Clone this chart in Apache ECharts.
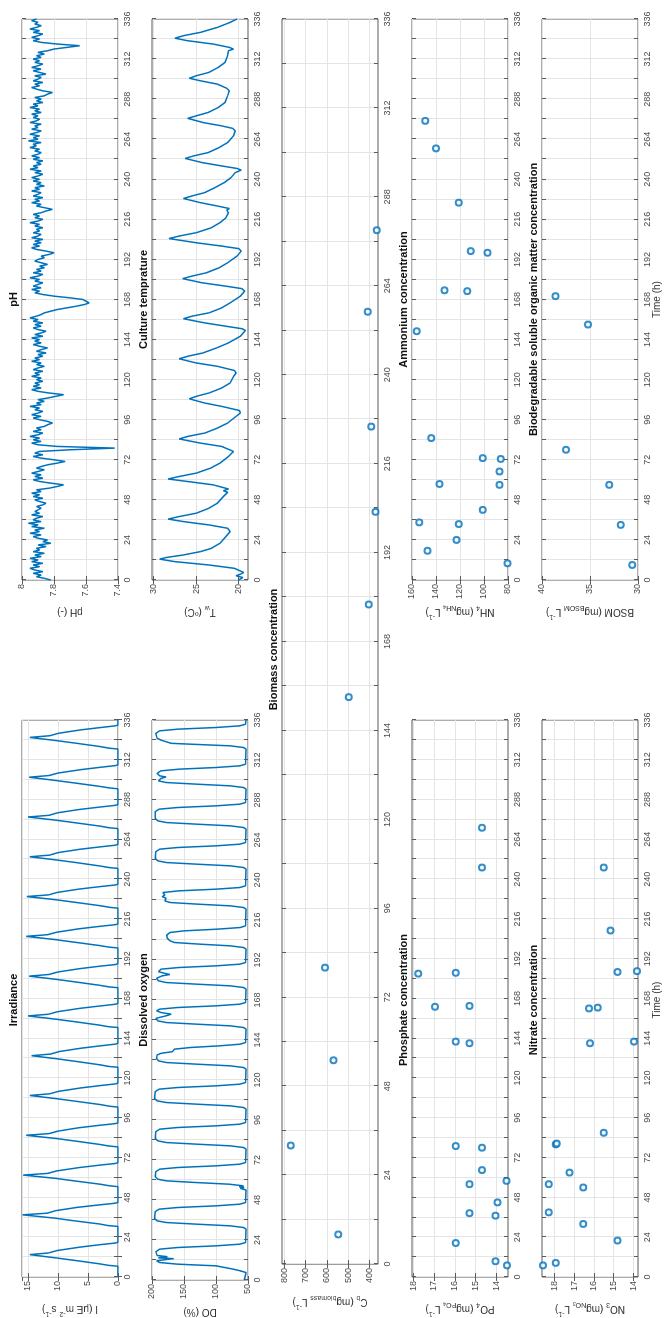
<!DOCTYPE html>
<html>
<head>
<meta charset="utf-8">
<script src="https://cdn.jsdelivr.net/npm/echarts@6/dist/echarts.min.js"></script>
<style>
html, body { margin: 0; padding: 0; background: #fff; overflow: hidden; width: 664px; height: 1318px; }
/* the figure is drawn landscape and turned a quarter turn, like the reference */
#fig { position: absolute; left: 0; top: 0; width: 1318px; height: 664px;
  transform-origin: 0 0; transform: translateY(1318px) rotate(-90deg); }
</style>
</head>
<body>
<div id="fig"></div>
<script>
// ---- data (time in h) ----
const irradiance = [
  [0,0],[6.5,0],[7,1.5],[8,3.2],[10,7.2],[11.5,10.3],[13.5,14.7],[14.5,11.6],[16,10.1],[18,6.4],[19.5,3],[20.5,0.4],[21,0],
  [30.5,0],[31,1.6],[32,3.1],[34,7.5],[35.5,10.5],[37.5,15.9],[38.5,11.8],[40,10.4],[42,6.8],[43.5,3.1],[44.5,0.5],[45,0],
  [54.5,0],[55,1.4],[56,3],[58,7.3],[59.5,10.4],[61.5,15.8],[62.5,11.7],[64,10.2],[66,6.5],[67.5,3],[68.5,0.4],[69,0],
  [78.5,0],[79,1.5],[80,3.1],[82,7.1],[83.5,10.2],[85.5,15.3],[86.5,11.5],[88,10],[90,6.6],[91.5,3.1],[92.5,0.5],[93,0],
  [102.5,0],[103,1.4],[104,2.9],[106,7],[107.5,10.1],[109.5,14.7],[110.5,11.4],[112,9.9],[114,6.3],[115.5,2.9],[116.5,0.4],[117,0],
  [126.5,0],[127,1.5],[128,3],[130,6.9],[131.5,9.9],[133.5,14.4],[134.5,11.2],[136,9.8],[138,6.2],[139.5,2.8],[140.5,0.4],[141,0],
  [150.5,0],[151,1.6],[152,3.2],[154,7.2],[155.5,10.3],[157.5,15.0],[158.5,11.6],[160,10.1],[162,6.5],[163.5,3],[164.5,0.5],[165,0],
  [174.5,0],[175,1.5],[176,3.1],[178,7.1],[179.5,10.2],[181.5,14.8],[182.5,11.5],[184,10],[186,6.4],[187.5,3],[188.5,0.4],[189,0],
  [198.5,0],[199,1.5],[200,3.2],[202,7.3],[203.5,10.4],[205.5,15.3],[206.5,11.7],[208,10.2],[210,6.6],[211.5,3.1],[212.5,0.5],[213,0],
  [222.5,0],[223,1.4],[224,3],[226,7.1],[227.5,10.2],[229.5,15.2],[230.5,11.6],[232,10.1],[234,6.5],[235.5,3],[236.5,0.4],[237,0],
  [246.5,0],[247,1.5],[248,3.1],[250,7],[251.5,10.1],[253.5,14.7],[254.5,11.4],[256,10],[258,6.4],[259.5,2.9],[260.5,0.4],[261,0],
  [270.5,0],[271,1.5],[272,3],[274,7.1],[275.5,10.2],[277.5,15.0],[278.5,11.5],[280,10.1],[282,6.5],[283.5,3],[284.5,0.5],[285,0],
  [294.5,0],[295,1.4],[296,3.1],[298,7.2],[299.5,10.3],[301.5,14.8],[302.5,11.5],[304,10],[306,6.3],[307.5,2.9],[308.5,0.4],[309,0],
  [318.5,0],[319,1.5],[320,3],[322,7],[323.5,10.1],[325.5,14.7],[326.5,11.4],[328,9.9],[330,6.3],[331.5,2.8],[332.5,0.4],[333,0],[336,0]
];

const dissolvedOxygen = [
  [0,56],[3,54],[4.5,53],[5.5,62],[6.5,73],[7.5,75],[8.5,100],[9.5,160],[10.5,188],[11.5,193],[12.3,178],[12.8,166],[13.3,190],[14,176],[14.7,192],[17,194],[18.5,188],[19.5,160],[20.5,100],[21.5,63],[22.5,54],
  [30.5,53],[31.5,57],[32.5,78],[33.5,130],[34.5,178],[35.5,192],[37,196],[41,195],[42.5,189],[43.5,160],[44.5,100],[45.5,63],[46.5,54],
  [54,53],[55,62],[55.5,56],[56,64],[56.5,57],[57.5,80],[58.5,132],[59.5,178],[60.5,191],[62,195],[65,194],[66.5,188],[67.5,160],[68.5,100],[69.5,63],[70.5,54],
  [78.5,53],[79.5,57],[80.5,78],[81.5,130],[82.5,178],[83.5,191],[85,195],[89,194],[90.5,188],[91.5,160],[92.5,100],[93.5,63],[94.5,54],
  [102.5,53],[103.5,57],[104.5,78],[105.5,130],[106.5,178],[107.5,192],[109,196],[113,195],[114.5,189],[115.5,160],[116.5,100],[117.5,63],[118.5,54],
  [126.5,53],[127.5,57],[128.5,78],[129.5,130],[130.5,178],[131.5,190],[133,193],[135,192],[136,186],[137,168],[138.5,165],[139.5,140],[140.5,95],[141.5,62],[142.5,54],
  [150.5,53],[151.5,57],[152.5,78],[153.5,130],[154.5,178],[155.5,191],[157,194],[158.5,178],[159.5,170],[160.5,186],[161.5,193],[162.5,188],[163.5,160],[164.5,100],[165.5,63],[166.5,54],
  [174.5,53],[175.5,57],[176.5,78],[177.5,130],[178.5,178],[179.5,190],[181,193],[182.5,184],[183.3,172],[184,180],[185,190],[186.5,186],[187.5,158],[188.5,100],[189.5,63],[190.5,54],
  [198.5,53],[199.5,57],[200.5,78],[201.5,125],[202.5,165],[203.5,172],[205,176],[207,177],[208.5,172],[209.5,150],[210.5,98],[211.5,62],[212.5,54],
  [222.5,53],[223.5,57],[224.5,78],[225.5,128],[226.5,172],[227.5,180],[229,178],[230,184],[231,180],[232.5,183],[233.5,158],[234.5,100],[235.5,63],[236.5,54],
  [246.5,53],[247.5,57],[248.5,78],[249.5,130],[250.5,178],[251.5,191],[253,195],[257,194],[258.5,188],[259.5,160],[260.5,100],[261.5,63],[262.5,54],
  [270.5,53],[271.5,57],[272.5,78],[273.5,130],[274.5,178],[275.5,191],[277,195],[281,195],[282.5,189],[283.5,160],[284.5,100],[285.5,63],[286.5,54],
  [294.5,53],[295.5,57],[296.5,78],[297.5,130],[298.5,178],[299.5,190],[301,186],[301.8,178],[302.5,188],[304,192],[305.5,186],[306.5,158],[307.5,100],[308.5,63],[309.5,54],
  [318.5,53],[319.5,57],[320.5,78],[321.5,140],[322,170],[323,172],[323.8,185],[325,192],[328,194],[329.5,188],[330.5,160],[331.5,100],[332.5,63],[333.5,54],[336,53]
];

// hourly pH, 0 h .. 336 h
const pH = [
  7.82,7.86,7.91,7.88,7.93,7.87,7.92,7.95,7.89,7.93,7.87,7.94,7.90,7.95,7.88,7.92,7.86,7.93,7.89,7.91,7.85,7.90,7.82,7.87,
  7.84,7.90,7.93,7.88,7.95,7.89,7.92,7.86,7.94,7.90,7.96,7.88,7.93,7.91,7.87,7.94,7.89,7.92,7.90,7.88,7.91,7.87,7.85,7.89,
  7.92,7.87,7.93,7.89,7.94,7.88,7.91,7.83,7.78,7.74,7.82,7.89,7.93,7.87,7.92,7.88,7.94,7.90,7.86,7.91,7.88,7.84,7.78,7.73,
  7.80,7.88,7.93,7.87,7.92,7.89,7.70,7.42,7.78,7.90,7.94,7.88,7.93,7.89,7.95,7.90,7.87,7.93,7.88,7.91,7.86,7.84,7.81,7.84,
  7.89,7.93,7.88,7.94,7.90,7.87,7.92,7.89,7.95,7.88,7.91,7.86,7.90,7.84,7.79,7.74,7.83,7.90,7.94,7.88,7.93,7.89,7.92,7.87,
  7.91,7.88,7.94,7.89,7.92,7.87,7.93,7.90,7.86,7.91,7.88,7.94,7.89,7.92,7.87,7.90,7.85,7.91,7.88,7.84,7.89,7.93,7.88,7.92,
  7.89,7.94,7.87,7.92,7.88,7.85,7.90,7.93,7.88,7.92,7.87,7.93,7.90,7.95,7.91,7.88,7.86,7.82,7.78,7.72,7.66,7.61,7.58,7.57,
  7.62,7.70,7.80,7.87,7.92,7.89,7.94,7.88,7.93,7.90,7.87,7.92,7.89,7.95,7.90,7.87,7.93,7.88,7.91,7.86,7.89,7.84,7.88,7.92,
  7.90,7.86,7.88,7.83,7.80,7.85,7.91,7.94,7.89,7.93,7.88,7.92,7.87,7.94,7.90,7.88,7.93,7.89,7.91,7.87,7.92,7.89,7.95,7.90,
  7.87,7.92,7.89,7.93,7.88,7.85,7.81,7.86,7.91,7.88,7.94,7.89,7.92,7.87,7.93,7.90,7.88,7.94,7.89,7.92,7.86,7.91,7.88,7.93,
  7.89,7.94,7.90,7.87,7.92,7.88,7.95,7.90,7.93,7.88,7.91,7.87,7.93,7.89,7.94,7.90,7.88,7.92,7.89,7.95,7.91,7.93,7.88,7.96,
  7.90,7.93,7.89,7.95,7.91,7.88,7.94,7.90,7.92,7.88,7.95,7.91,7.89,7.93,7.90,7.94,7.88,7.92,7.89,7.95,7.90,7.93,7.87,7.91,
  7.88,7.92,7.86,7.84,7.81,7.87,7.91,7.94,7.89,7.92,7.87,7.93,7.90,7.88,7.92,7.85,7.89,7.93,7.88,7.94,7.90,7.87,7.92,7.89,
  7.93,7.88,7.91,7.86,7.90,7.84,7.80,7.72,7.64,7.78,7.88,7.93,7.89,7.94,7.90,7.87,7.93,7.89,7.95,7.91,7.88,7.92,7.90,7.94,
  7.91
];

const waterTemp = [
  [0,20.0],[1.5,19.5],[2.5,20.3],[3.5,19.8],[4.5,19.4],[5.5,19.6],[7,20.5],[9,23.5],[11,27.5],[12.5,29.3],[13.5,28.5],[15,26.5],[17,24.5],[19,23.2],[22,22.2],[26,21.5],[29,21.0],
  [31,21.3],[33,23.5],[35,26.5],[36.5,28.3],[38,27],[40,25],[43,23.5],[46,22.5],[50,21.8],[52.5,21.3],[53.5,21.8],[54.5,21.2],
  [57,23],[59,26],[60.5,28.3],[62,27],[64,25],[67,23.3],[70,22.2],[74,21.2],[77,20.6],[78,20.8],
  [80,22],[82,24.5],[84.5,27],[86,26],[88,24],[91,22.5],[94,21.3],[98,20.3],[100,19.8],[101.5,19.9],
  [104,22],[106,24],[108.5,25.8],[110,25],[112,23.5],[115,22],[118,21],[122,20.6],[124,20.3],[125.5,20.5],
  [128,22.5],[130,25],[132.5,27],[134,26],[136,24.2],[139,22.6],[142,21.2],[146,19.8],[149.5,19.2],[150.5,19.6],
  [152,21.5],[154,24],[156.5,26.5],[158,25.5],[160,23.5],[163,22],[166,21],[170,19.8],[173,19.3],[174.5,19.6],
  [176,21.5],[178,24.3],[180.5,26.6],[182,25.5],[184,23.8],[187,22.3],[190,21.3],[194,20.2],[197,19.7],[198.5,20],
  [200,22],[202,25],[204.5,28.2],[206,27],[208,25],[211,23.2],[214,22.2],[217,21.5],[220,21.2],[221.5,21.4],[222.5,21.1],
  [224,22.5],[226,24.5],[228.5,26.5],[230,25.5],[232,24],[235,22.8],[238,21.7],[241,20.9],[244,20.4],[245.5,19.7],[246.5,20.2],
  [248,22],[250,24.3],[252.5,26.3],[254,25.3],[256,23.6],[259,22.3],[262,21.3],[266,20.6],[269,20.4],[270.5,20.7],
  [272,22],[274,24.2],[276.5,26],[278,25],[280,23.6],[283,22.4],[286,21.6],[290,21.3],[293,21.1],[294.5,21.4],[295.5,21.2],
  [297,22.5],[299,24.5],[300.5,25.8],[302,25],[304,23.5],[307,22.4],[310,21.6],[314,21.3],[317,21.2],[318,20.6],[319,21.1],
  [321,23],[323,26],[324.5,27.5],[326,26.5],[328,24.5],[331,22.5],[334,21],[336,20.2]
];

const biomassTime = [8, 32, 55, 80, 153, 178, 203, 226, 257, 279];
const biomass     = [546, 769, 569, 608, 497, 403, 372, 392, 408, 366];

const phosphateTime = [7, 9.5, 20.5, 37, 38.5, 45, 56, 58, 64.5, 78, 79, 141, 142, 163, 163.5, 183, 183.5, 247, 271];
const phosphate     = [13.5, 14.05, 15.95, 14.05, 15.3, 13.95, 15.3, 13.52, 14.7, 14.7, 15.95, 15.3, 15.95, 16.95, 15.3, 17.75, 15.95, 14.7, 14.7];

const nitrateTime = [7, 8.5, 22, 32, 39, 54, 56, 63, 80, 80.5, 87, 141, 142, 162, 162.5, 184, 184.5, 209, 247];
const nitrate     = [18.6, 17.95, 14.8, 16.55, 18.3, 16.55, 18.3, 17.25, 17.95, 17.9, 15.5, 16.2, 13.95, 16.25, 15.8, 14.8, 13.8, 15.15, 15.5];

const ammoniumTime = [10, 17.5, 24, 33.5, 34.5, 42, 57, 57.5, 65, 72.5, 73, 85, 149, 173, 173.5, 196, 197, 226, 258.5, 275];
const ammonium     = [80.5, 147, 123, 121, 154, 101, 87, 137, 87, 86, 101, 144, 156, 114, 133, 97, 111, 121, 140, 149];

const bsomTime = [9, 33, 57, 78, 153, 170];
const bsom     = [30.6, 31.8, 33.0, 37.5, 35.2, 38.6];

const timeTicks = [0, 336, 12];   // min, max, step (labels every 24 h)

// ---- style ----
const FONT = 'Liberation Sans';
const BLUE = '#0072BD';
const AX = '#5a5a5a';
const LBL = '#4a4a4a';
const GRID = '#e4e4e4';

const RICH = {
  n: { fontSize: 10, fontFamily: FONT, color: '#333', lineHeight: 16 },
  s: { fontSize: 7, fontFamily: FONT, color: '#333', lineHeight: 8, verticalAlign: 'bottom' },
  ss: { fontSize: 5, fontFamily: FONT, color: '#333', lineHeight: 3, verticalAlign: 'bottom' },
  p: { fontSize: 7, fontFamily: FONT, color: '#333', lineHeight: 8, verticalAlign: 'top' }
};

const cols = { L: { x: 38, w: 560 }, R: { x: 738, w: 561 }, F: { x: 38, w: 1261 } };
const rowTop = [22, 152, 282, 412, 542];
const rowH = 96;

const pairs = (t, v) => t.map((x, i) => [x, v[i]]);

const panels = [
  { col: 'L', row: 0, title: 'Irradiance', name: '{n|I (μE m}{p|-2}{n| s}{p|-1}{n|)}',
    y: { min: 0, max: 16, interval: 5 }, kind: 'line', data: irradiance },
  { col: 'L', row: 1, title: 'Dissolved oxygen', name: '{n|DO (%)}',
    y: { min: 50, max: 200, interval: 50 }, kind: 'line', data: dissolvedOxygen },
  { col: 'F', row: 2, title: 'Biomass concentration', name: '{n|C}{s|b}{n| (mg}{s|biomass}{n| L}{p|-1}{n|)}',
    y: { min: 360, max: 810, ticks: [400, 500, 600, 700, 800] }, kind: 'scatter', data: pairs(biomassTime, biomass) },
  { col: 'L', row: 3, title: 'Phosphate concentration', name: '{n|PO}{s|4}{n| (mg}{s|PO}{ss|4}{n| L}{p|-1}{n|)}',
    y: { min: 13.45, max: 18.05, ticks: [14, 15, 16, 17, 18] }, kind: 'scatter', data: pairs(phosphateTime, phosphate) },
  { col: 'L', row: 4, title: 'Nitrate concentration', name: '{n|NO}{s|3}{n| (mg}{s|NO}{ss|3}{n| L}{p|-1}{n|)}',
    y: { min: 13.75, max: 18.65, ticks: [14, 15, 16, 17, 18] }, kind: 'scatter', data: pairs(nitrateTime, nitrate), xname: true },
  { col: 'R', row: 0, title: 'pH', name: '{n|pH (-)}',
    y: { min: 7.4, max: 8, interval: 0.2 }, kind: 'line', data: pH.map((v, h) => [h, v]) },
  { col: 'R', row: 1, title: 'Culture temprature', name: '{n|T}{s|w}{n| (ºC)}',
    y: { min: 18.9, max: 30.2, ticks: [20, 25, 30] }, kind: 'line', data: waterTemp },
  { col: 'R', row: 3, title: 'Ammonium concentration', name: '{n|NH}{s|4}{n| (mg}{s|NH}{ss|4}{n| L}{p|-1}{n|)}',
    y: { min: 80, max: 160, interval: 20 }, kind: 'scatter', data: pairs(ammoniumTime, ammonium) },
  { col: 'R', row: 4, title: 'Biodegradable soluble organic matter concentration', name: '{n|BSOM (mg}{s|BSOM}{n| L}{p|-1}{n|)}',
    y: { min: 30, max: 40, interval: 5 }, kind: 'scatter', data: pairs(bsomTime, bsom), xname: true }
];

const grids = [], xAxes = [], yAxes = [], series = [], texts = [];
const xMirror = [], yMirror = [];

panels.forEach((p, i) => {
  const c = cols[p.col];
  const top = rowTop[p.row];
  grids.push({ left: c.x, top: top, width: c.w, height: rowH, show: true,
    borderColor: AX, borderWidth: 1, backgroundColor: '#fff' });

  const xa = {
    type: 'value', gridIndex: i, min: timeTicks[0], max: timeTicks[1], interval: timeTicks[2],
    axisLine: { show: false },
    axisTick: { inside: true, length: 4, lineStyle: { color: AX } },
    axisLabel: { fontSize: 9, fontFamily: FONT, color: LBL, margin: 5,
      formatter: v => (v % 24 === 0 ? String(v) : '') },
    splitLine: { show: true, lineStyle: { color: GRID, width: 1 } }
  };
  xAxes.push(xa);
  // box ticks on the opposite side, as in the original figure
  xMirror.push(Object.assign({}, xa, { position: 'top', axisLabel: { show: false }, splitLine: { show: false } }));

  const ya = {
    type: 'value', gridIndex: i, min: p.y.min, max: p.y.max,
    name: p.name, nameLocation: 'middle', nameGap: 24, nameRotate: 90,
    nameTextStyle: { rich: RICH },
    axisLine: { show: false },
    axisTick: { inside: true, length: 4, lineStyle: { color: AX } },
    axisLabel: { fontSize: 9, fontFamily: FONT, color: LBL, margin: 4, showMaxLabel: false },
    splitLine: { show: true, lineStyle: { color: GRID, width: 1 } }
  };
  if (p.y.interval) {
    ya.interval = p.y.interval;
    ya.axisLabel.showMaxLabel = (p.y.max % p.y.interval === 0) || Math.abs(p.y.max - 8) < 1e-9;
  }
  if (p.y.ticks) {
    ya.axisLabel.customValues = p.y.ticks;
    ya.axisTick.customValues = p.y.ticks;
    ya.axisLabel.showMaxLabel = true;
  }
  yAxes.push(ya);
  const ym = { type: 'value', gridIndex: i, min: p.y.min, max: p.y.max, position: 'right',
    axisLine: { show: false }, axisLabel: { show: false }, splitLine: { show: false },
    axisTick: { inside: true, length: 4, lineStyle: { color: AX } } };
  if (p.y.interval) ym.interval = p.y.interval;
  if (p.y.ticks) ym.axisTick.customValues = p.y.ticks;
  yMirror.push(ym);

  if (p.kind === 'line') {
    series.push({ type: 'line', xAxisIndex: i, yAxisIndex: i, data: p.data,
      showSymbol: false, symbol: 'none', lineStyle: { color: BLUE, width: 1.5 }, z: 3 });
  } else {
    series.push({ type: 'scatter', xAxisIndex: i, yAxisIndex: i, data: p.data,
      symbol: 'emptyCircle', symbolSize: 6,
      itemStyle: { color: BLUE, borderColor: BLUE, borderWidth: 1.6 }, z: 3 });
  }

  texts.push({ type: 'text', x: c.x + c.w / 2, y: top - 3,
    style: { text: p.title, fontSize: 11, fontWeight: 'bold', fontFamily: FONT, fill: '#111',
      align: 'center', verticalAlign: 'bottom' } });
  if (p.xname) {
    texts.push({ type: 'text', x: c.x + c.w / 2, y: top + rowH + 19,
      style: { text: 'Time (h)', fontSize: 10, fontFamily: FONT, fill: '#333',
        align: 'center', verticalAlign: 'middle' } });
  }
});

const chart = echarts.init(document.getElementById('fig'), null, { renderer: 'canvas' });
chart.setOption({
  animation: false,
  backgroundColor: '#fff',
  grid: grids,
  xAxis: xAxes.concat(xMirror),
  yAxis: yAxes.concat(yMirror),
  series: series,
  graphic: texts
});
</script>
</body>
</html>
